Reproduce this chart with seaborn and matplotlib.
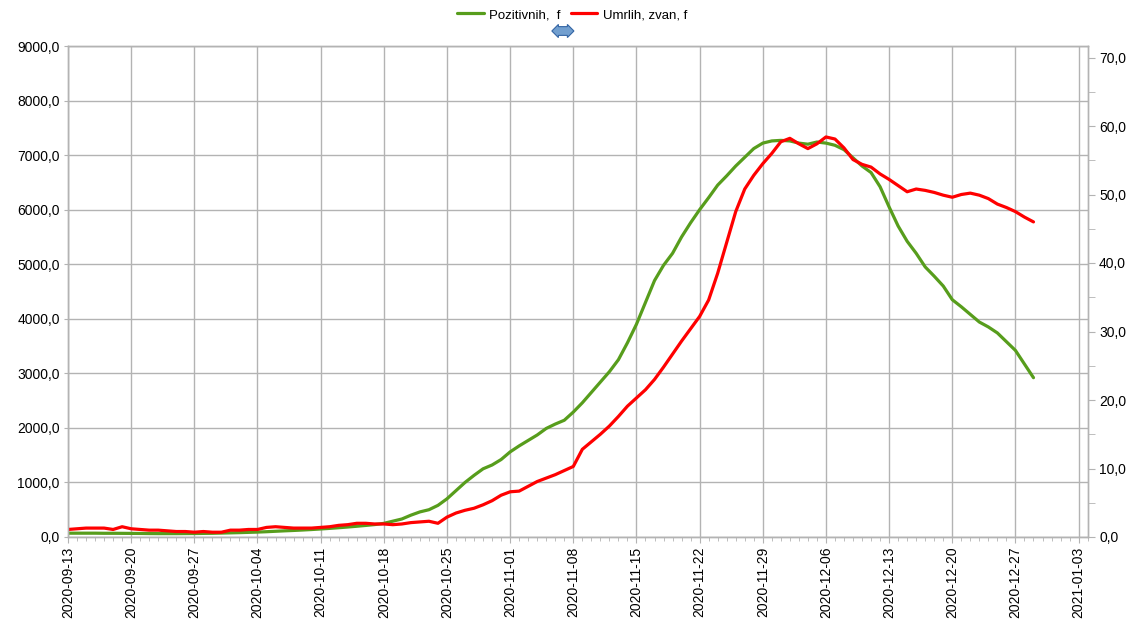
import pandas as pd
import matplotlib
matplotlib.use("Agg")
import matplotlib.pyplot as plt
import matplotlib.dates as mdates
from matplotlib.ticker import FuncFormatter, MultipleLocator
import seaborn as sns

# PODATKI (dnevno, 2020-09-13 .. 2020-12-29)
zacetek = "2020-09-13"
pozitivnih = [
    70, 70, 70, 70, 68, 68, 67, 66, 65, 63, 62, 62, 62, 63, 64,
    66, 68, 72, 76, 80, 85, 90,
    97, 105, 113, 120, 128, 137, 147,
    158, 170, 183, 197, 212, 228, 250,
    290, 330, 400, 460, 500, 580, 700,
    850, 1000, 1130, 1250, 1320, 1420, 1560,
    1670, 1770, 1870, 1990, 2070, 2140, 2290,
    2460, 2650, 2840, 3030, 3250, 3560, 3900,
    4300, 4700, 4980, 5200, 5500, 5760, 6000,
    6220, 6450, 6620, 6800, 6960, 7120, 7220,
    7260, 7270, 7260, 7220, 7200, 7240, 7220,
    7180, 7100, 6950, 6800, 6680, 6420, 6050,
    5700, 5420, 5200, 4950, 4780, 4600, 4350,
    4220, 4080, 3940, 3850, 3740, 3580, 3420,
    3170, 2920,
]
umrlih = [
    1.1, 1.2, 1.3, 1.3, 1.3, 1.1, 1.5, 1.2, 1.1, 1.0, 1.0, 0.9, 0.8, 0.8, 0.7,
    0.8, 0.7, 0.7, 1.0, 1.0, 1.1, 1.1,
    1.4, 1.5, 1.4, 1.3, 1.3, 1.3, 1.4,
    1.5, 1.7, 1.8, 2.0, 2.0, 1.9, 1.9,
    1.8, 1.9, 2.1, 2.2, 2.3, 2.0, 2.9,
    3.5, 3.9, 4.2, 4.7, 5.3, 6.1, 6.6,
    6.7, 7.4, 8.1, 8.6, 9.1, 9.7, 10.3,
    12.8, 13.9, 15.0, 16.2, 17.6, 19.1, 20.3,
    21.5, 23.0, 24.8, 26.7, 28.6, 30.4, 32.2,
    34.6, 38.5, 43.0, 47.5, 50.8, 52.8, 54.5,
    56.0, 57.7, 58.2, 57.4, 56.7, 57.4, 58.4,
    58.1, 56.8, 55.1, 54.4, 54.0, 53.0, 52.2,
    51.3, 50.4, 50.8, 50.6, 50.3, 49.9, 49.6,
    50.0, 50.2, 49.9, 49.4, 48.6, 48.1, 47.5,
    46.7, 46.0,
]
oznaka_poz = "Pozitivnih,  f"
oznaka_umr = "Umrlih, zvan, f"

df = pd.DataFrame({
    "datum": pd.date_range(zacetek, periods=len(pozitivnih), freq="D"),
    "poz": pozitivnih,
    "umr": umrlih,
})

sns.set_style("white")
plt.rcParams["font.family"] = ["Liberation Sans", "DejaVu Sans"]
plt.rcParams["text.color"] = "black"
plt.rcParams["xtick.labelcolor"] = "black"
plt.rcParams["ytick.labelcolor"] = "black"
siva = "#b3b3b3"
zelena = "#579d1c"
rdeca = "#ff0000"
fmt = FuncFormatter(lambda v, p: f"{v:.1f}".replace(".", ","))

fig = plt.figure(figsize=(11.35, 6.22), dpi=100)
ax = fig.add_axes([68 / 1135, 1 - 537 / 622, 1020 / 1135, 491 / 622])
ax2 = ax.twinx()

sns.lineplot(data=df, x="datum", y="poz", ax=ax, color=zelena, linewidth=2.3, label=oznaka_poz, legend=False)
sns.lineplot(data=df, x="datum", y="umr", ax=ax2, color=rdeca, linewidth=2.3, label=oznaka_umr, legend=False)

ax.set_xlim(pd.Timestamp("2020-09-13"), pd.Timestamp("2021-01-04") + pd.Timedelta(hours=1))
ax.set_ylim(0, 9000)
ax2.set_ylim(0, 491 / 6.85)

ax.xaxis.set_major_locator(mdates.WeekdayLocator(byweekday=mdates.SU))
ax.xaxis.set_minor_locator(mdates.DayLocator())
ax.xaxis.set_major_formatter(mdates.DateFormatter("%Y-%m-%d"))
ax.yaxis.set_major_locator(MultipleLocator(1000))
ax.yaxis.set_major_formatter(fmt)
ax2.yaxis.set_major_locator(MultipleLocator(10))
ax2.yaxis.set_minor_locator(MultipleLocator(5))
ax2.yaxis.set_major_formatter(fmt)

ax.grid(True, which="major", color=siva, linewidth=1)
ax2.grid(False)
for a in (ax, ax2):
    for s in a.spines.values():
        s.set_color(siva)
        s.set_linewidth(1)
    a.set_xlabel("")
    a.set_ylabel("")

ax.tick_params(axis="x", which="major", direction="out", length=4, color=siva, labelsize=10, rotation=90, pad=3, bottom=True)
ax.tick_params(axis="x", which="minor", direction="out", length=3, color=siva, bottom=True)
ax.tick_params(axis="y", which="major", direction="out", length=3, color=siva, labelsize=10, pad=3, left=True)
ax2.tick_params(axis="y", which="both", direction="out", length=5, color=siva, labelsize=10, pad=3, right=True)

# legenda
h1, l1 = ax.get_legend_handles_labels()
h2, l2 = ax2.get_legend_handles_labels()
fig.legend(h1 + h2, l1 + l2, loc="upper center", bbox_to_anchor=(0.504, 1.005), ncol=2,
           frameon=False, fontsize=9.5, handlelength=2.0, handletextpad=0.4, columnspacing=0.8)

# dvojna puscica pod legendo
fig.text(563 / 1135, 1 - 31 / 622, "\u2002\u2002\u2002\u2002", fontsize=4.5, ha="center", va="center",
         bbox=dict(boxstyle="darrow,pad=0.3", fc="#729fcf", ec="#3465a4", lw=0.8))

plt.savefig("out.png", dpi=100)
